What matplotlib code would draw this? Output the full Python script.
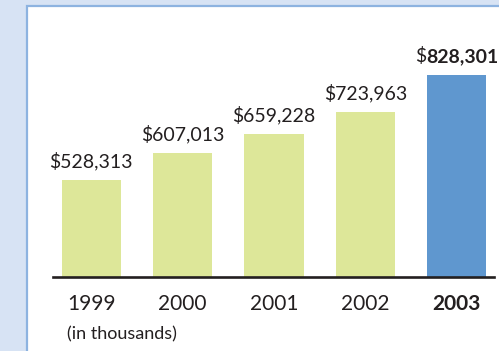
import matplotlib
matplotlib.use('Agg')
import matplotlib.pyplot as plt
from matplotlib.patches import Rectangle

plt.rcParams['font.family'] = ['Lato', 'DejaVu Sans']

years = ['1999', '2000', '2001', '2002', '2003']
values = [528313, 607013, 659228, 723963, 828301]
bar_colors = ['#dde799', '#dde799', '#dde799', '#dde799', '#5f97cf']
text_color = '#231f20'

W, H = 499, 351
fig = plt.figure(figsize=(W / 100, H / 100), dpi=100, facecolor='#d7e3f4')

# white panel with blue border, runs off the right and bottom edges
panel = Rectangle((27 / W, -0.05), 1.0, (H - 6) / H + 0.05, transform=fig.transFigure,
                  facecolor='white', edgecolor='#8db3e0', linewidth=1.6, zorder=-1)
fig.patches.append(panel)

ax = fig.add_axes([53 / W, (H - 277) / H, 441 / W, 277 / H])
ax.set_facecolor('none')
x = list(range(len(years)))
bars = ax.bar(x, values, width=0.648, color=bar_colors, zorder=2)
ax.set_xlim(-0.42, 4.41)
ax.set_ylim(253500, 1041300)

for s in ['top', 'right', 'left']:
    ax.spines[s].set_visible(False)
ax.spines['bottom'].set_color(text_color)
ax.spines['bottom'].set_linewidth(1.9)
ax.set_yticks([])
ax.set_xticks(x)
ax.set_xticklabels(years, fontsize=15, color=text_color)
ax.get_xticklabels()[-1].set_fontweight('bold')
ax.tick_params(axis='x', length=0, pad=12)

off = 9
# value labels
for i, v in enumerate(values[:-1]):
    ax.annotate(f'${v:,}', (x[i], v), xytext=(0, off), textcoords='offset points',
                ha='center', va='baseline', fontsize=14, color=text_color)

# last bar: "$" regular, number bold
i = len(values) - 1
num = ax.annotate(f'{values[i]:,}', (x[i], values[i]), xytext=(0, off), textcoords='offset points',
                  ha='left', va='baseline', fontsize=14, fontweight='bold', color=text_color)
dol = ax.annotate('$', (x[i], values[i]), xytext=(0, off), textcoords='offset points',
                  ha='right', va='baseline', fontsize=14, color=text_color)
r = fig.canvas.get_renderer()
wn = num.get_window_extent(r).width
wd = dol.get_window_extent(r).width
shift = (wd - wn) / 2 * 72 / fig.dpi
num.set_position((shift, off))
dol.set_position((shift, off))

fig.text(67 / W, 1 - 334 / H, '(in thousands)', fontsize=13, color=text_color,
         ha='left', va='center')

fig.savefig('out.png', dpi=100, facecolor=fig.get_facecolor())
